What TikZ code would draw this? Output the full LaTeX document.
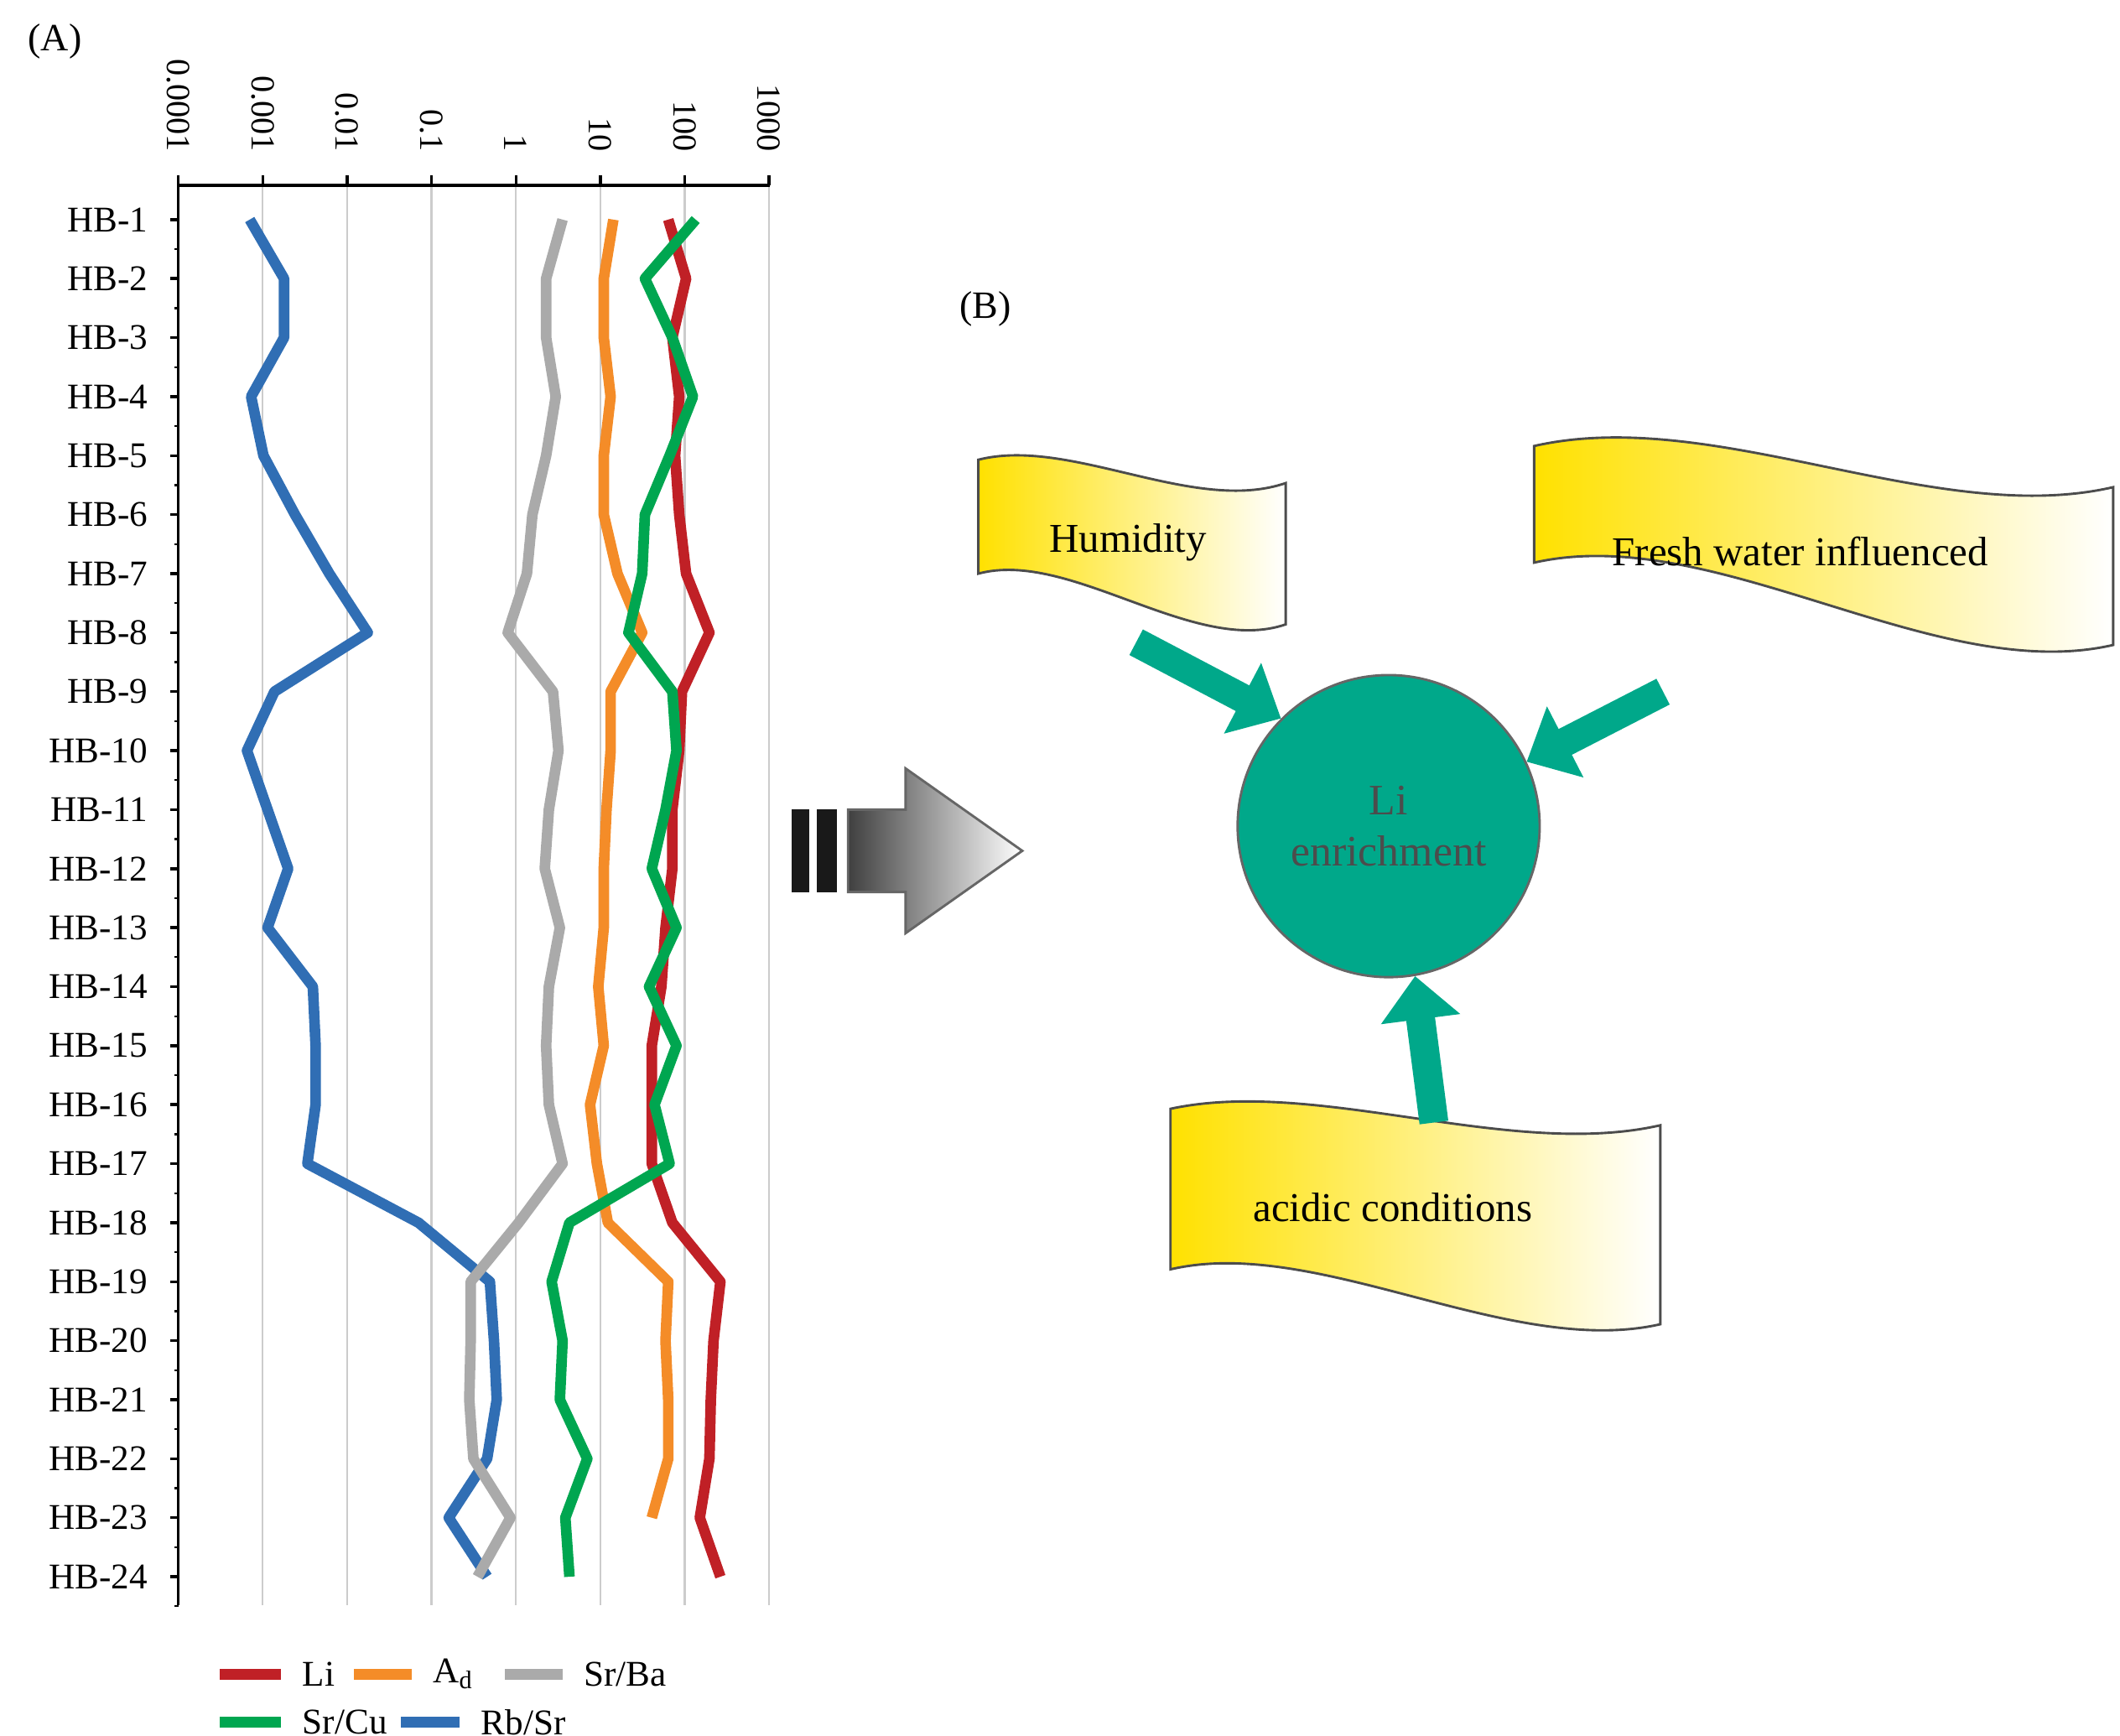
\documentclass[tikz,border=0pt]{standalone}
\usepackage{fontspec}
\setmainfont{Liberation Serif}
\usetikzlibrary{arrows.meta,positioning,shadings}
\definecolor{liRed}{RGB}{192,32,38}
\definecolor{adOrange}{RGB}{244,140,40}
\definecolor{srGray}{RGB}{170,170,170}
\definecolor{cuGreen}{RGB}{0,166,80}
\definecolor{rbBlue}{RGB}{48,110,180}
\definecolor{tealLi}{RGB}{0,168,138}
\definecolor{bannerYel}{RGB}{255,225,0}
\tikzset{
  curve/.style={line width=2.2pt,line join=round},
  rowlab/.style={anchor=east,font=\fontsize{7.5}{9}\selectfont},
  ticklab/.style={rotate=-90,anchor=east,font=\fontsize{7}{8}\selectfont},
  leglab/.style={right,text=black,font=\fontsize{7.5}{9}\selectfont},
  banner/.style={draw=black!70,line width=0.5pt,left color=bannerYel,right color=white},
  bantext/.style={font=\fontsize{8.5}{10}\selectfont},
  push/.style={line width=6pt,tealLi,-{Triangle[length=9pt,width=16pt]}},
}
\begin{document}
\begin{tikzpicture}[x=0.01cm,y=-0.01cm]
\useasboundingbox (0,0) rectangle (1545,1265);
% panel labels
\node[font=\fontsize{8}{9}\selectfont] (labA) at (40,30) {(A)};
\node[font=\fontsize{8}{9}\selectfont] (labB) at (718,225) {(B)};
% grid and axes
\foreach \k in {1,...,7}
  \draw[black!20,line width=0.4pt] (130+61.5*\k,135) -- (130+61.5*\k,1170);
\draw[line width=0.6pt] (130,1170) -- (130,135) -- (561,135);
\foreach \v [count=\k from 0] in {0.0001,0.001,0.01,0.1,1,10,100,1000}{
  \draw[line width=0.6pt] (130+61.5*\k,135) -- (130+61.5*\k,128);
  \node[ticklab] (tk\k) at (130+61.5*\k,123) {\v};
}
\foreach \i in {1,...,24}{
  \draw[line width=0.6pt] (130,117+43*\i) -- (124,117+43*\i);
  \draw[line width=0.4pt] (130,138.5+43*\i) -- (127,138.5+43*\i);
  \node[rowlab] (hb\i) at (120,117+43*\i) {HB-\i};
}
% data curves
\draw[curve,rbBlue] plot coordinates {(182,160) (207,203) (207,246) (183,289) (192,332) (215,375) (240,418) (268,461) (200,504) (180,547) (195,590) (210,633) (195,676) (228,719) (230,762) (230,805) (224,848) (305,891) (357,934) (360,977) (362,1020) (355,1063) (327,1106) (355,1149)};
\draw[curve,srGray] plot coordinates {(410,160) (398,203) (398,246) (405,289) (398,332) (388,375) (384,418) (370,461) (403,504) (407,547) (400,590) (397,633) (408,676) (400,719) (398,762) (400,805) (410,848) (378,891) (343,934) (343,977) (342,1020) (345,1063) (372,1106) (348,1149)};
\draw[curve,adOrange] plot coordinates {(447,160) (440,203) (440,246) (445,289) (440,332) (440,375) (450,418) (468,461) (445,504) (445,547) (442,590) (440,633) (440,676) (436,719) (440,762) (430,805) (435,848) (443,891) (487,934) (485,977) (487,1020) (487,1063) (475,1106)};
\draw[curve,liRed] plot coordinates {(487,160) (500,203) (490,246) (495,289) (492,332) (495,375) (500,418) (517,461) (497,504) (495,547) (490,590) (490,633) (485,676) (482,719) (475,762) (475,805) (475,848) (490,891) (525,934) (520,977) (518,1020) (517,1063) (510,1106) (525,1149)};
\draw[curve,cuGreen] plot coordinates {(507,160) (470,203) (490,246) (505,289) (488,332) (470,375) (468,418) (458,461) (490,504) (493,547) (485,590) (475,633) (493,676) (473,719) (493,762) (477,805) (488,848) (415,891) (402,934) (410,977) (408,1020) (428,1063) (412,1106) (415,1149)};
% legend
\draw[curve,liRed] (160,1220) -- (205,1220) node[leglab] (legLi) {Li};
\draw[curve,adOrange] (258,1220) -- (300,1220) node[leglab] (legAd) {A$_{\mathrm{d}}$};
\draw[curve,srGray] (368,1220) -- (410,1220) node[leglab] (legSrBa) {Sr/Ba};
\draw[curve,cuGreen] (160,1255) -- (205,1255) node[leglab] (legSrCu) {Sr/Cu};
\draw[curve,rbBlue] (292,1255) -- (335,1255) node[leglab] (legRbSr) {Rb/Sr};
% big arrow A -> B
\fill[black!90] (577,590) rectangle (590,650);
\fill[black!90] (595,590) rectangle (610,650);
\shade[left color=black!75,right color=white,draw=black!60,line width=0.5pt]
  (618,590) -- (660,590) -- (660,560) -- (745,620) -- (660,680) -- (660,650) -- (618,650) -- cycle;
% Li enrichment
\node[circle,fill=tealLi,draw=black!60,line width=0.5pt,minimum size=2.2cm,align=center,
  font=\fontsize{9}{10.5}\selectfont,text=black!70] (li) at (1012,602) {Li\\enrichment};
% banners
\shade[banner] (713,335) .. controls (780,318) and (870,375) .. (937,352) -- (937,455)
  .. controls (870,478) and (780,400) .. (713,418) -- cycle;
\node[bantext] (hum) at (822,395) {Humidity};
\shade[banner] (1118,325) .. controls (1250,295) and (1410,385) .. (1540,355) -- (1540,470)
  .. controls (1410,500) and (1250,380) .. (1118,410) -- cycle;
\node[bantext] (fresh) at (1312,402) {Fresh water influenced};
\shade[banner] (853,808) .. controls (960,785) and (1100,845) .. (1210,820) -- (1210,965)
  .. controls (1100,990) and (960,900) .. (853,925) -- cycle;
\node[bantext] (acid) at (1015,880) {acidic conditions};
% arrows to Li enrichment
\coordinate (humTail) at (828,468);
\coordinate (freshTail) at (1212,504);
\coordinate (acidTail) at (1045,818);
\draw[push] (humTail) -- (li.135);
\draw[push] (freshTail) -- (li.25);
\draw[push] (acidTail) -- (li.280);
\end{tikzpicture}
\end{document}
